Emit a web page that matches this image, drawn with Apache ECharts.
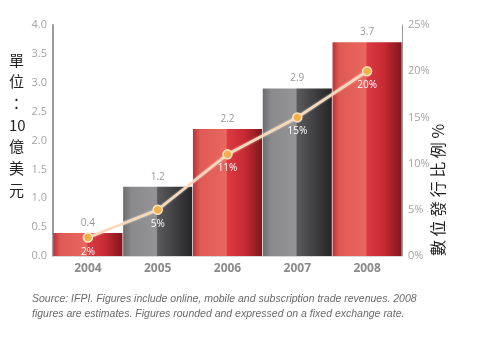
<!DOCTYPE html>
<html>
<head>
<meta charset="utf-8">
<script src="https://cdn.jsdelivr.net/npm/echarts@6/dist/echarts.min.js"></script>
<style>
html,body{margin:0;padding:0;background:#fff;}
#chart{width:478px;height:343px;}
</style>
</head>
<body>
<div id="chart"></div>
<script>
var years = ['2004', '2005', '2006', '2007', '2008'];
var revenue = [0.4, 1.2, 2.2, 2.9, 3.7];
var share = [2, 5, 11, 15, 20];
var leftTicks = ['0.0', '0.5', '1.0', '1.5', '2.0', '2.5', '3.0', '3.5', '4.0'];
var rightTicks = ['0%', '5%', '10%', '15%', '20%', '25%'];

var redGrad = new echarts.graphic.LinearGradient(0, 0, 1, 0, [
  {offset: 0, color: '#b8323a'},
  {offset: 0.1, color: '#df5a55'},
  {offset: 0.48, color: '#e9675e'},
  {offset: 0.5, color: '#dc3a42'},
  {offset: 0.75, color: '#c72a33'},
  {offset: 1, color: '#7e161c'}
]);
var greyGrad = new echarts.graphic.LinearGradient(0, 0, 1, 0, [
  {offset: 0, color: '#6c6c6e'},
  {offset: 0.12, color: '#8a8a8c'},
  {offset: 0.48, color: '#949496'},
  {offset: 0.5, color: '#5a5a5c'},
  {offset: 0.8, color: '#3a3a3c'},
  {offset: 1, color: '#262628'}
]);

var barData = revenue.map(function (v, i) {
  return {value: v, itemStyle: {color: i % 2 === 0 ? redGrad : greyGrad}};
});

var chart = echarts.init(document.getElementById('chart'), null, {renderer: 'canvas'});
chart.setOption({
  animation: false,
  backgroundColor: '#fff',
  grid: {left: 53, right: 76, top: 25, bottom: 87},
  xAxis: {
    type: 'category',
    data: years,
    axisLine: {show: true, lineStyle: {color: '#d8d8d8', width: 1}},
    axisTick: {show: false},
    axisLabel: {color: '#8a8a8a', fontSize: 12, fontWeight: 'bold', fontFamily: 'Open Sans', margin: 7}
  },
  yAxis: [{
    type: 'value', min: 0, max: 4, interval: 0.5,
    axisLine: {show: true, lineStyle: {color: '#9a9a9a', width: 2}},
    axisTick: {show: false},
    splitLine: {show: false},
    axisLabel: {color: '#a4a4a4', fontSize: 11, fontFamily: 'Open Sans', margin: 6,
      formatter: function (v) { return leftTicks[Math.round(v / 0.5)]; }}
  }, {
    type: 'value', min: 0, max: 25, interval: 5, position: 'right',
    axisLine: {show: true, lineStyle: {color: '#9a9a9a', width: 1}},
    axisTick: {show: false},
    splitLine: {show: false},
    axisLabel: {color: '#a4a4a4', fontSize: 11, fontFamily: 'Open Sans', margin: 6,
      formatter: function (v) { return rightTicks[Math.round(v / 5)]; }}
  }],
  series: [{
    type: 'bar',
    data: barData,
    barCategoryGap: '0%',
    barWidth: '99%',
    label: {show: true, position: 'top', distance: 5, color: '#9a9a9a', fontSize: 10, fontFamily: 'Open Sans',
      formatter: function (p) { return revenue[p.dataIndex].toFixed(1); }}
  }, {
    type: 'line',
    yAxisIndex: 1,
    data: share,
    symbol: 'circle',
    symbolSize: 9,
    lineStyle: {color: '#f7d9b9', width: 2.5, shadowColor: 'rgba(255,255,255,0.9)', shadowBlur: 2},
    itemStyle: {color: '#f0b04c', borderColor: '#fce3c4', borderWidth: 1.5},
    label: {show: true, position: 'bottom', distance: 4, color: '#ffffff', fontSize: 10, fontFamily: 'Open Sans',
      formatter: function (p) { return share[p.dataIndex] + '%'; }},
    z: 5
  }],
  graphic: [{
    type: 'text', left: 9, top: 49,
    style: {text: '單\n位\n：\n10\n億\n美\n元', font: '15px "Noto Sans CJK TC"', fill: '#222', lineHeight: 21.7, align: 'center', width: 18}
  }, {
    type: 'text', x: 438, y: 190, rotation: Math.PI / 2,
    style: {text: '數 位 發 行 比 例 %', font: '16px "Noto Sans CJK TC"', fill: '#222', align: 'center', verticalAlign: 'middle'}
  }, {
    type: 'text', left: 32, top: 292,
    style: {text: 'Source: IFPI. Figures include online, mobile and subscription trade revenues. 2008\nfigures are estimates. Figures rounded and expressed on a fixed exchange rate.',
      font: 'italic 10.5px "Liberation Sans"', fill: '#6a6a6a', lineHeight: 15}
  }]
});
</script>
</body>
</html>
